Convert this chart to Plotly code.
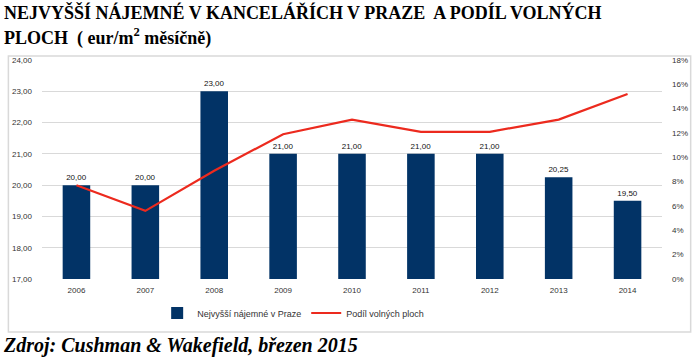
import plotly.graph_objects as go

years = ["2006", "2007", "2008", "2009", "2010", "2011", "2012", "2013", "2014"]
rent = [20.00, 20.00, 23.00, 21.00, 21.00, 21.00, 21.00, 20.25, 19.50]
vacancy = [7.7, 5.6, 8.9, 11.9, 13.1, 12.1, 12.1, 13.1, 15.2]
left_ticks = [17, 18, 19, 20, 21, 22, 23, 24]
right_ticks = [0, 2, 4, 6, 8, 10, 12, 14, 16, 18]
right_labels = [f"{v}%" for v in right_ticks]

W, H = 700, 358
L, R, T, B = 37, 664, 60, 279

def px(x):
    return (x - L) / (R - L)

def py(y):
    return (B - y) / (B - T)

fig = go.Figure()
fig.add_trace(go.Bar(
    x=years, y=[v - 17 for v in rent], base=17,
    name="Nejvyšší nájemné v Praze",
    marker=dict(color="#023366", line=dict(width=0)),
    width=0.4,
    text=[f"{v:.2f}".replace(".", ",") for v in rent],
    textposition="outside",
    textfont=dict(family="Liberation Sans", size=8, color="#111111"),
    cliponaxis=False,
    hoverinfo="skip",
))
fig.add_trace(go.Scatter(
    x=years, y=vacancy, yaxis="y2", mode="lines",
    name="Podíl volných ploch",
    line=dict(color="#ec2a1e", width=2.2),
))

fig.update_layout(
    width=W, height=H,
    margin=dict(l=L, r=W - R, t=T, b=H - B, pad=0),
    paper_bgcolor="white", plot_bgcolor="white",
    separators=", ",
    showlegend=True,
    legend=dict(orientation="h", x=px(291), y=py(313), xanchor="center", yanchor="middle",
                font=dict(family="Liberation Sans", size=9, color="#333333"),
                itemwidth=30, tracegroupgap=0, traceorder="normal", bgcolor="rgba(0,0,0,0)"),
    xaxis=dict(type="category", showgrid=False, showline=False, ticks="",
               tickfont=dict(family="Liberation Sans", size=8, color="#333333"),
               ticklabelstandoff=5),
    yaxis=dict(range=[17, 24], tickvals=left_ticks, tickformat=".2f",
               showgrid=True, gridcolor="#d9d9d9", gridwidth=1, zeroline=False,
               showline=False, ticks="",
               tickfont=dict(family="Liberation Sans", size=8, color="#333333"),
               ticklabelstandoff=9),
    yaxis2=dict(range=[0, 18], tickvals=right_ticks, ticktext=right_labels,
                overlaying="y", side="right",
                showgrid=False, zeroline=False, showline=False, ticks="",
                tickfont=dict(family="Liberation Sans", size=8, color="#333333"),
                ticklabelstandoff=9),
    bargap=0.6,
)

fig.add_shape(type="rect", xref="paper", yref="paper",
              x0=px(3), x1=px(693), y0=py(332), y1=py(56),
              line=dict(color="#d9d9d9", width=1.5), fillcolor="rgba(0,0,0,0)", layer="below")

fig.add_annotation(xref="paper", yref="paper", x=px(-3), y=py(13), xanchor="left", yanchor="middle",
                   showarrow=False,
                   text="<b>NEJVYŠŠÍ NÁJEMNÉ V KANCELÁŘÍCH V PRAZE  A PODÍL VOLNÝCH</b>",
                   font=dict(family="Liberation Serif", size=18, color="black"))
fig.add_annotation(xref="paper", yref="paper", x=px(-3), y=py(37), xanchor="left", yanchor="middle",
                   showarrow=False,
                   text="<b>PLOCH  ( eur/m<sup>2</sup> měsíčně)</b>",
                   font=dict(family="Liberation Serif", size=18, color="black"))
fig.add_annotation(xref="paper", yref="paper", x=px(-4), y=py(345), xanchor="left", yanchor="middle",
                   showarrow=False,
                   text="<b><i>Zdroj: Cushman &amp; Wakefield, březen 2015</i></b>",
                   font=dict(family="Liberation Serif", size=20, color="black"))

fig.write_html("out.html", config={"displayModeBar": False},
               post_script="document.body.style.margin='0';document.body.style.overflow='hidden';")
